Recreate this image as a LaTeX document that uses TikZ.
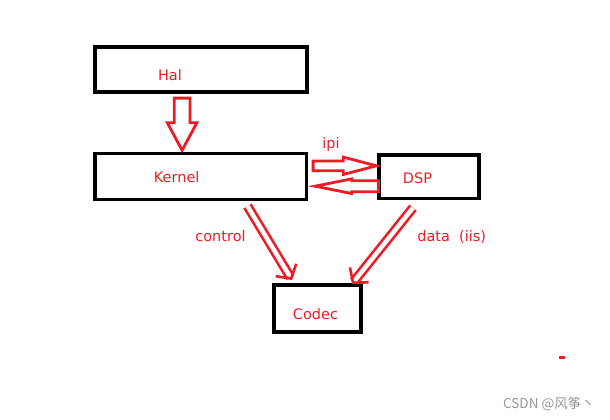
\documentclass[tikz,border=0pt]{standalone}
\usepackage{fontspec}
\setmainfont{DejaVu Sans}
\newfontfamily\cjkfont{Noto Sans CJK SC}
\usetikzlibrary{shapes.arrows,arrows.meta,calc}
\definecolor{pred}{RGB}{237,28,36}
\definecolor{wmgray}{RGB}{150,150,150}
\tikzset{
  box/.style={draw=black, line width=3.5pt, inner sep=0pt, outer sep=0pt},
  txt/.style={text=pred, font=\fontsize{14.5}{17}\selectfont, inner sep=0pt, anchor=base},
  blockarr/.style={single arrow, draw=pred, line width=2.8pt, inner xsep=0pt, outer sep=0pt, minimum width=0pt, single arrow head indent=0pt, anchor=tail},
  dblarr/.style={draw=pred, line width=2.6pt, double=white, double distance=4.5pt, -{Straight Barb[length=10pt,width=24pt]}}
}
\begin{document}
\begin{tikzpicture}[x=1pt, y=-1pt, line join=miter]
	\useasboundingbox (0,0) rectangle (610,420);
	% boxes
	\node[box, minimum width=212pt, minimum height=45pt] (hal) at (201,69.5) {};
	\node[box, minimum width=211.5pt, minimum height=46pt] (kernel) at (200.75,176.6) {};
	\node[box, minimum width=100pt, minimum height=43.5pt] (dsp) at (429,176.5) {};
	\node[box, minimum width=87pt, minimum height=47pt] (codec) at (317.5,308.5) {};
	% labels
	\node[txt] (halt) at (170,80) {Hal};
	\node[txt] (kernelt) at (176.7,182.7) {Kernel};
	\node[txt] (dspt) at (417.5,183.3) {DSP};
	\node[txt] (codect) at (315.5,319) {Codec};
	\node[txt] (ipit) at (331,148.5) {ipi};
	\node[txt] (controlt) at (220.5,241.7) {control};
	\node[txt] (datat) at (451.7,241.7) {data\ \ (iis)};
	% block arrows
	\node[blockarr, rotate=-90, inner ysep=6.45pt, minimum height=52.2pt, single arrow head extend=6.95pt, single arrow tip angle=56.5] (h2k) at ([xshift=-18.9pt,yshift=-6.1pt]hal.south) {};
	\node[blockarr, inner ysep=3.45pt, minimum height=63.3pt, single arrow head extend=3.8pt, single arrow tip angle=29.3] (k2d) at ([xshift=6.6pt,yshift=10.8pt]kernel.east) {};
	\node[blockarr, rotate=180, inner ysep=4.1pt, minimum height=63.3pt, single arrow head extend=1.85pt, single arrow tip angle=22.7] (d2k) at ([xshift=-0.6pt,yshift=-9.7pt]dsp.west) {};
	% control / data
	\draw[dblarr] ([xshift=-59pt,yshift=-6.5pt]kernel.south east) -- ([xshift=18pt,yshift=5pt]codec.north west);
	\draw[dblarr] ([xshift=34pt,yshift=-9.5pt]dsp.south west) -- ([xshift=-9pt,yshift=1pt]codec.north east);
	\fill[pred] (559,355.5) rectangle (565,359);
	\node[text=wmgray, font=\cjkfont\fontsize{13.5}{15}\selectfont, inner sep=0pt, anchor=east] (wm) at (595,403.5) {CSDN @风筝丶};
\end{tikzpicture}
\end{document}
